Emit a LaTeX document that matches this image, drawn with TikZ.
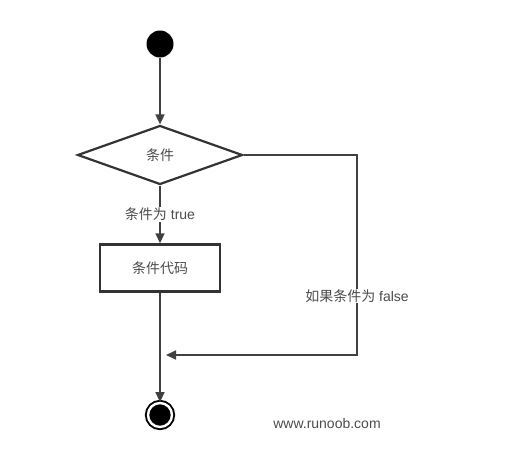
\documentclass[tikz,border=0pt]{standalone}
\usepackage{fontspec}
\setmainfont{Liberation Sans}
\newfontfamily\cjk{Noto Sans CJK SC}
\usetikzlibrary{arrows.meta, positioning, shapes.geometric}

\begin{document}
\begin{tikzpicture}[x=1pt, y=-1pt, font=\fontsize{14}{16}\selectfont,
		every node/.style={inner sep=1pt},
		flow/.style={draw=black!75, line width=1.7pt, -{Triangle[length=10pt, width=9pt]}},
		lbl/.style={fill=white, text=black!70}]
			\useasboundingbox (0,0) rectangle (522,457);
			\node (start) at (160,44) [circle, fill=black, minimum size=27pt] {};
			\node (cond) at (160,155) [diamond, draw=black!80, line width=2.2pt,
				minimum width=165pt, minimum height=59pt, text=black!70] {\cjk 条件};
			\node (code) at (160,268) [rectangle, draw=black!80, line width=2.4pt,
				minimum width=120pt, minimum height=47pt, text=black!70] {\cjk 条件代码};
			\node (stop) at (160,415) [circle, fill=black, draw=black, double=white,
				double distance=2.4pt, line width=1.9pt, minimum size=24pt] {};
			\coordinate (merge) at (166,355);
			\node (site) at (327,423) [text=black!70] {www.runoob.com};

			\draw[flow] (start) -- (cond);
			\draw[flow] (cond) -- node[lbl, midway] {{\cjk 条件为} true} (code);
			\draw[flow] (code) -- (stop);
			\draw[flow] (cond.east) -- (357,155) -- node[lbl, pos=0.705] {{\cjk 如果条件为} false} (357,355) -- (merge);
		\end{tikzpicture}
\end{document}
